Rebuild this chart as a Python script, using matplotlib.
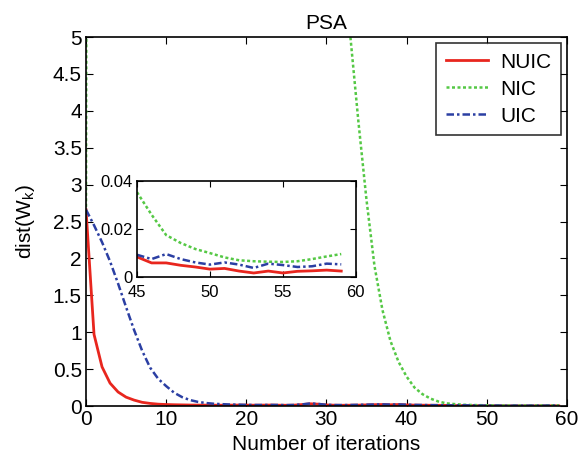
import numpy as np
import matplotlib.pyplot as plt

plt.rcParams['font.family'] = ['Liberation Sans', 'DejaVu Sans']
plt.rcParams['mathtext.fontset'] = 'custom'
plt.rcParams['mathtext.rm'] = 'Liberation Sans'
plt.rcParams['mathtext.it'] = 'Liberation Sans'

# iteration index
iters = np.arange(60)

# NUIC (red, solid)
nuic = [2.66, 0.97, 0.53, 0.31, 0.19, 0.12, 0.08, 0.05, 0.035, 0.025,
        0.02, 0.017, 0.015, 0.013, 0.012, 0.012, 0.011, 0.011, 0.012, 0.013,
        0.012, 0.011, 0.012, 0.013, 0.011, 0.010, 0.012, 0.02, 0.03, 0.025,
        0.014, 0.011, 0.010, 0.011, 0.012, 0.015, 0.018, 0.02, 0.017, 0.02,
        0.015, 0.012, 0.011, 0.01, 0.009,
        0.0084, 0.0059, 0.0059, 0.0049, 0.0042, 0.0033, 0.0036, 0.0025, 0.0017, 0.0025,
        0.0017, 0.0024, 0.0026, 0.0029, 0.0025]

# NIC (green, dotted) - values above 5 are off the top of the axes
nic = [2.7, 60, 55, 50, 46, 42, 39, 36, 33, 30,
       28, 26, 24, 22, 20.5, 19, 17.5, 16, 15, 14,
       13, 12, 11.2, 10.5, 9.8, 9.2, 8.6, 8.1, 7.6, 7.2,
       6.8, 6.4, 6.0, 5.0, 3.85, 2.8, 1.9, 1.3, 0.88, 0.6,
       0.4, 0.25, 0.16, 0.1, 0.06,
       0.0354, 0.026, 0.0175, 0.0142, 0.0117, 0.010, 0.0082, 0.007, 0.0066, 0.0064,
       0.0063, 0.0066, 0.0075, 0.0086, 0.0096]

# UIC (blue, dash-dot)
uic = [2.66, 2.45, 2.22, 1.96, 1.66, 1.34, 1.03, 0.75, 0.52, 0.37,
       0.27, 0.18, 0.12, 0.08, 0.055, 0.04, 0.03, 0.025, 0.02, 0.018,
       0.015, 0.014, 0.013, 0.015, 0.014, 0.012, 0.014, 0.022, 0.035, 0.028,
       0.016, 0.013, 0.012, 0.014, 0.016, 0.018, 0.02, 0.022, 0.019, 0.021,
       0.018, 0.015, 0.013, 0.012, 0.011,
       0.0093, 0.0075, 0.0096, 0.0075, 0.0061, 0.0052, 0.0061, 0.0052, 0.0038, 0.0056,
       0.005, 0.0042, 0.0045, 0.0056, 0.0053]

red = '#e8261e'
green = '#55c845'
blue = '#2b3fa3'

fig = plt.figure(figsize=(5.82, 4.61), dpi=100)
ax = fig.add_axes([0.1478, 0.1193, 0.826, 0.8002])

ax.plot(iters, nuic, color=red, lw=2, ls='-', label='NUIC')
ax.plot(iters, nic, color=green, lw=1.8, ls=(0, (1.2, 1)), label='NIC')
ax.plot(iters, uic, color=blue, lw=1.8, ls=(0, (3, 1.2, 1, 1.2)), label='UIC')

ax.set_xlim(0, 60)
ax.set_ylim(0, 5)
ax.set_xticks(np.arange(0, 61, 10))
ax.set_yticks(np.arange(0, 5.01, 0.5))
ax.set_yticklabels(['0', '0.5', '1', '1.5', '2', '2.5', '3', '3.5', '4', '4.5', '5'])
ax.tick_params(direction='in', top=True, right=True, labelsize=15, length=5, width=0.8, pad=3)
for s in ax.spines.values():
    s.set_linewidth(1.2)
ax.set_title('PSA', fontsize=15, pad=6)
ax.set_xlabel('Number of iterations', fontsize=15, labelpad=4)
ax.set_ylabel('dist(W$_k$)', fontsize=15, labelpad=11)

leg = ax.legend(loc='upper right', fontsize=15, fancybox=False, edgecolor='black',
                handlelength=2.0, labelspacing=0.38, borderaxespad=0.3,
                borderpad=0.45, handletextpad=0.6)
leg.get_frame().set_linewidth(1.2)

# inset zoom on iterations 45-59
ins = fig.add_axes([0.2354, 0.399, 0.376, 0.208])
ins.plot(iters[45:], nuic[45:], color=red, lw=2, ls='-')
ins.plot(iters[45:], nic[45:], color=green, lw=1.8, ls=(0, (1.2, 1)))
ins.plot(iters[45:], uic[45:], color=blue, lw=1.8, ls=(0, (3, 1.2, 1, 1.2)))
ins.set_xlim(45, 60)
ins.set_ylim(0, 0.04)
ins.set_xticks([45, 50, 55, 60])
ins.set_yticks([0, 0.02, 0.04])
ins.set_yticklabels(['0', '0.02', '0.04'])
ins.tick_params(direction='in', top=True, right=True, labelsize=12, length=4, width=0.8)
ins.tick_params(axis='x', pad=6)
ins.tick_params(axis='y', pad=3)
for s in ins.spines.values():
    s.set_linewidth(1.2)

fig.savefig('out.png', dpi=100)
